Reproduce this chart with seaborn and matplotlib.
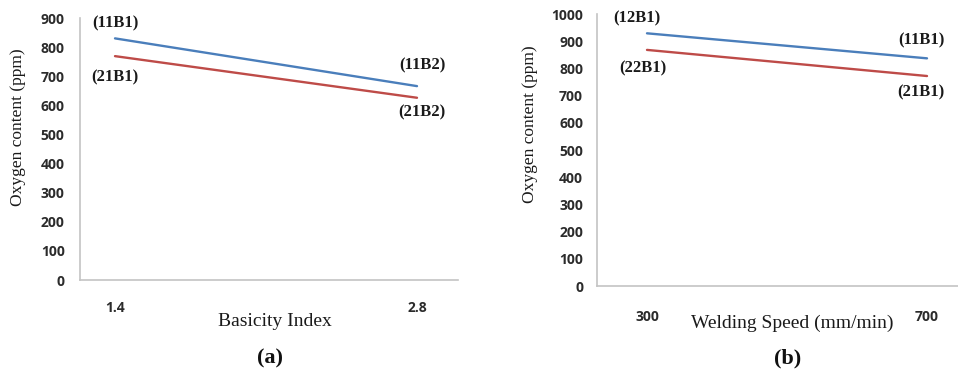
import matplotlib
matplotlib.use("Agg")
import matplotlib.pyplot as plt
import seaborn as sns
import pandas as pd

# ---- data ----
basicity = ["1.4", "2.8"]
a_upper = [830, 666]
a_lower = [769, 626]
a_upper_labels = ["(11B1)", "(11B2)"]
a_lower_labels = ["(21B1)", "(21B2)"]

speed = ["300", "700"]
b_upper = [929, 837]
b_lower = [868, 772]
b_upper_labels = ["(12B1)", "(11B1)"]
b_lower_labels = ["(22B1)", "(21B1)"]

BLUE = "#4a7ebb"
RED = "#be4b48"

sns.set_theme(style="white")
plt.rcParams["font.family"] = ["DejaVu Sans"]

fig = plt.figure(figsize=(9.58, 3.74), dpi=100)
W, H = 958, 374

def px_axes(l, r, t, b):
    return fig.add_axes([l / W, 1 - b / H, (r - l) / W, (b - t) / H])

ax_a = px_axes(80, 458, 18, 280)
ax_b = px_axes(597, 958, 14, 286)

serif = "Liberation Serif"
tickfont = dict(family="Open Sans", weight="bold", size=10)


def draw(ax, cats, up, lo, up_lab, lo_lab, ymax, xlim, up_off, lo_off, xlabel, xl_pos, yl_pos, xpad, ypad):
    df = pd.DataFrame({"x": cats * 2, "y": up + lo,
                       "s": ["up"] * len(cats) + ["lo"] * len(cats)})
    sns.lineplot(data=df, x="x", y="y", hue="s", palette={"up": BLUE, "lo": RED},
                 linewidth=1.7, legend=False, ax=ax, sort=False)
    ax.set_ylim(0, ymax)
    ax.set_xlim(*xlim)
    ax.set_yticks(range(0, ymax + 1, 100))
    for sp in ["top", "right"]:
        ax.spines[sp].set_visible(False)
    for sp in ["left", "bottom"]:
        ax.spines[sp].set_color("#c4c4c4")
        ax.spines[sp].set_linewidth(1.2)
    ax.tick_params(axis="both", length=0, colors="#333333")
    ax.tick_params(axis="y", pad=ypad)
    ax.tick_params(axis="x", pad=xpad)
    for lbl in ax.get_xticklabels() + ax.get_yticklabels():
        lbl.set_fontfamily(tickfont["family"])
        lbl.set_fontweight(tickfont["weight"])
        lbl.set_fontsize(tickfont["size"])
        lbl.set_color("#2b2b2b")
    ax.set_xlabel(xlabel, fontfamily=serif, fontsize=14, color="#1a1a1a")
    ax.set_ylabel("Oxygen content (ppm)", fontfamily=serif, fontsize=12.5, color="#1a1a1a")
    ax.xaxis.label.set_va("center")
    ax.yaxis.label.set_va("center")
    ax.xaxis.set_label_coords(*xl_pos)
    ax.yaxis.set_label_coords(*yl_pos)
    for i in range(len(cats)):
        ax.annotate(up_lab[i], xy=(i, up[i]), xytext=up_off[i], textcoords="offset pixels",
                    ha="center", va="center", fontfamily=serif, fontweight="bold",
                    fontsize=12, color="#1a1a1a")
        ax.annotate(lo_lab[i], xy=(i, lo[i]), xytext=lo_off[i], textcoords="offset pixels",
                    ha="center", va="center", fontfamily=serif, fontweight="bold",
                    fontsize=12, color="#1a1a1a")


draw(ax_a, basicity, a_upper, a_lower, a_upper_labels, a_lower_labels, 900,
     (-35 / 302, 1 + 41 / 302), [(0, 15), (5, 21)], [(0, -21), (5, -15)],
     "Basicity Index", (0.516, -0.16), (-0.164, 0.584), 15, 11)

draw(ax_b, speed, b_upper, b_lower, b_upper_labels, b_lower_labels, 1000,
     (-50 / 280, 1 + 31 / 280), [(-10, 15), (-6, 18)], [(-4, -18), (-6, -16)],
     "Welding Speed (mm/min)", (0.54, -0.136), (-0.186, 0.596), 17, 10)

fig.text(270 / W, 1 - 358 / H, "(a)", ha="center", va="center",
         fontfamily=serif, fontweight="bold", fontsize=16, color="#111111")
fig.text(788 / W, 1 - 358 / H, "(b)", ha="center", va="center",
         fontfamily=serif, fontweight="bold", fontsize=16, color="#111111")

fig.savefig("out.png", dpi=100)
